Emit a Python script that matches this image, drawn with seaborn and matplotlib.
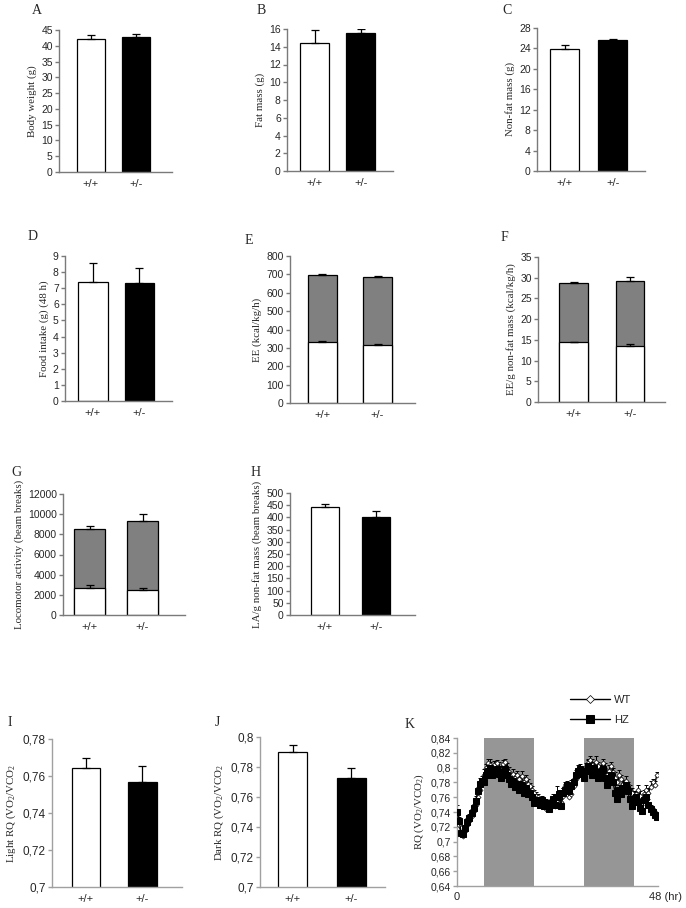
import numpy as np
import matplotlib
matplotlib.use('Agg')
import matplotlib.pyplot as plt
import matplotlib.transforms as mtransforms
import seaborn as sns

sns.set_style('ticks')
plt.rcParams['font.family'] = ['Liberation Sans', 'DejaVu Sans']
plt.rcParams['mathtext.fontset'] = 'custom'
plt.rcParams['mathtext.rm'] = 'Liberation Serif'
plt.rcParams['mathtext.it'] = 'Liberation Serif:italic'

# ---- data ----
genotypes = ['+/+', '+/-']

body_weight = [42.0, 42.7]
body_weight_err = [1.4, 0.9]
fat_mass = [14.45, 15.5]
fat_mass_err = [1.45, 0.5]
nonfat_mass = [23.8, 25.7]
nonfat_mass_err = [0.95, 0.2]
food_intake = [7.39, 7.33]
food_intake_err = [1.16, 0.92]
ee_total = [695, 686]
ee_total_err = [6, 5]
ee_light = [330, 315]
ee_light_err = [5, 8]
ee_nf_total = [28.75, 29.1]
ee_nf_total_err = [0.3, 1.1]
ee_nf_light = [14.5, 13.5]
ee_nf_light_err = [0.1, 0.6]
la_total = [8500, 9300]
la_total_err = [350, 700]
la_light = [2700, 2450]
la_light_err = [250, 250]
la_nf = [444, 401]
la_nf_err = [12, 27]
rq_light = [0.7641, 0.7567]
rq_light_err = [0.0055, 0.0089]
rq_dark = [0.7902, 0.7727]
rq_dark_err = [0.0048, 0.0066]

# panel K: RQ over 48 h, one point every 30 min
rq_hours = np.arange(0, 48.5, 0.5)
rq_wt = [0.730, 0.722, 0.712, 0.708, 0.715, 0.722, 0.728, 0.735, 0.742, 0.750,
         0.760, 0.770, 0.778, 0.790, 0.800, 0.806, 0.804, 0.798, 0.803, 0.806,
         0.800, 0.796, 0.805, 0.808, 0.800, 0.794, 0.788, 0.792, 0.786, 0.790,
         0.784, 0.788, 0.780, 0.785, 0.778, 0.775, 0.770, 0.766, 0.762, 0.760,
         0.756, 0.752, 0.748, 0.744, 0.746, 0.750, 0.752, 0.748, 0.756, 0.760,
         0.754, 0.762, 0.775, 0.770, 0.760, 0.765, 0.775, 0.785, 0.790, 0.795,
         0.790, 0.795, 0.800, 0.806, 0.810, 0.804, 0.800, 0.808, 0.802, 0.796,
         0.806, 0.798, 0.790, 0.796, 0.802, 0.794, 0.786, 0.780, 0.790, 0.784,
         0.778, 0.782, 0.776, 0.770, 0.766, 0.760, 0.764, 0.770, 0.762, 0.756,
         0.764, 0.770, 0.766, 0.774, 0.780, 0.776, 0.790]
rq_wt_err = [0.004, 0.004, 0.003, 0.003, 0.004, 0.005, 0.004, 0.006, 0.005, 0.006,
             0.008, 0.006, 0.007, 0.008, 0.005, 0.006, 0.007, 0.005, 0.006, 0.004,
             0.007, 0.006, 0.005, 0.004, 0.006, 0.007, 0.005, 0.006, 0.007, 0.005,
             0.006, 0.008, 0.007, 0.005, 0.006, 0.004, 0.005, 0.004, 0.005, 0.004,
             0.004, 0.003, 0.005, 0.004, 0.006, 0.004, 0.005, 0.004, 0.006, 0.005,
             0.008, 0.010, 0.006, 0.009, 0.007, 0.008, 0.006, 0.007, 0.005, 0.006,
             0.007, 0.005, 0.006, 0.005, 0.006, 0.007, 0.005, 0.008, 0.006, 0.007,
             0.005, 0.008, 0.006, 0.007, 0.005, 0.006, 0.008, 0.005, 0.007, 0.006,
             0.005, 0.006, 0.005, 0.007, 0.006, 0.008, 0.005, 0.006, 0.007, 0.005,
             0.006, 0.007, 0.006, 0.008, 0.005, 0.006, 0.004]
rq_hz = [0.740, 0.728, 0.712, 0.710, 0.718, 0.726, 0.732, 0.738, 0.745, 0.755,
         0.768, 0.778, 0.782, 0.780, 0.790, 0.796, 0.800, 0.790, 0.796, 0.798,
         0.792, 0.786, 0.794, 0.798, 0.790, 0.784, 0.778, 0.782, 0.774, 0.778,
         0.770, 0.776, 0.766, 0.772, 0.764, 0.766, 0.760, 0.752, 0.756, 0.754,
         0.750, 0.756, 0.748, 0.752, 0.744, 0.752, 0.758, 0.750, 0.760, 0.764,
         0.748, 0.766, 0.770, 0.776, 0.768, 0.775, 0.780, 0.790, 0.796, 0.798,
         0.792, 0.786, 0.796, 0.802, 0.798, 0.790, 0.800, 0.794, 0.786, 0.792,
         0.798, 0.786, 0.776, 0.784, 0.790, 0.780, 0.766, 0.758, 0.770, 0.764,
         0.772, 0.776, 0.768, 0.758, 0.748, 0.754, 0.760, 0.754, 0.746, 0.742,
         0.756, 0.760, 0.750, 0.744, 0.740, 0.736, 0.733]
rq_hz_err = [0.010, 0.005, 0.004, 0.004, 0.005, 0.006, 0.005, 0.006, 0.006, 0.007,
             0.006, 0.008, 0.007, 0.006, 0.007, 0.006, 0.008, 0.006, 0.007, 0.010,
             0.006, 0.007, 0.006, 0.005, 0.006, 0.007, 0.006, 0.005, 0.006, 0.006,
             0.005, 0.006, 0.007, 0.006, 0.005, 0.006, 0.005, 0.006, 0.005, 0.004,
             0.006, 0.005, 0.007, 0.005, 0.006, 0.005, 0.007, 0.006, 0.015, 0.006,
             0.009, 0.007, 0.008, 0.006, 0.007, 0.008, 0.006, 0.007, 0.008, 0.007,
             0.008, 0.009, 0.006, 0.008, 0.007, 0.009, 0.007, 0.008, 0.010, 0.007,
             0.006, 0.008, 0.009, 0.007, 0.006, 0.008, 0.010, 0.008, 0.007, 0.006,
             0.007, 0.006, 0.008, 0.007, 0.009, 0.006, 0.007, 0.008, 0.006, 0.007,
             0.008, 0.006, 0.007, 0.006, 0.005, 0.006, 0.004]
dark_phases = [(6.5, 18.5), (30.5, 42.5)]

W, H = 686, 908
fig = plt.figure(figsize=(W / 100, H / 100), dpi=100)
SERIF = 'Liberation Serif'


def px_axes(l, t, r, b):
    return fig.add_axes([l / W, 1 - b / H, (r - l) / W, (b - t) / H])


def style(ax, ylabel, letter, letter_xy, spine='#7a7a7a', tick_size=7.5):
    sns.despine(ax=ax)
    for s in ('left', 'bottom'):
        ax.spines[s].set_color(spine)
        ax.spines[s].set_linewidth(1.0)
    ax.tick_params(axis='y', direction='out', length=3, width=1.0, color=spine,
                   labelsize=tick_size, pad=1.5)
    ax.tick_params(axis='x', length=0, labelsize=8, pad=5)
    ax.set_xlabel('')
    ax.set_ylabel(ylabel, family=SERIF, fontsize=7.8, labelpad=3)
    fig.text(letter_xy[0] / W, 1 - letter_xy[1] / H, letter, family=SERIF,
             fontsize=10, ha='center', va='center')


def bars(ax, vals, errs, colors, width):
    sns.barplot(x=genotypes, y=vals, hue=genotypes, palette=colors, width=width,
                edgecolor='black', linewidth=0.9, errorbar=None, legend=False, ax=ax)
    ax.errorbar([0, 1], vals, yerr=[[0, 0], errs], fmt='none', ecolor='black',
                elinewidth=0.9, capsize=3, capthick=0.9, zorder=5)


def bar_panel(box, vals, errs, width, xlim, ylim, step, ylabel, letter, letter_xy,
              stack=None, colors=('white', 'black')):
    ax = px_axes(*box)
    if stack is None:
        bars(ax, vals, errs, list(colors), width)
    else:
        bars(ax, vals, errs, ['#808080', '#808080'], width)
        bars(ax, stack[0], stack[1], ['white', 'white'], width)
    ax.set_xlim(*xlim)
    ax.set_ylim(*ylim)
    ax.set_yticks(np.arange(ylim[0], ylim[1] + step / 2, step))
    style(ax, ylabel, letter, letter_xy)
    return ax


bar_panel((59, 30, 172, 172), body_weight, body_weight_err, 0.64, (-0.71, 1.8),
          (0, 45), 5, 'Body weight (g)', 'A', (37, 10))
bar_panel((287, 29, 393, 171), fat_mass, fat_mass_err, 0.63, (-0.6, 1.7),
          (0, 16), 2, 'Fat mass (g)', 'B', (261, 10))
bar_panel((537, 28, 645, 171), nonfat_mass, nonfat_mass_err, 0.6, (-0.58, 1.67),
          (0, 28), 4, 'Non-fat mass (g)', 'C', (507, 10))

bar_panel((65, 256, 172, 401), food_intake, food_intake_err, 0.64, (-0.6, 1.7),
          (0, 9), 1, 'Food intake (g) (48 h)', 'D', (33, 237))
bar_panel((290, 256, 415, 403), ee_total, ee_total_err, 0.53, (-0.59, 1.68),
          (0, 800), 100, 'EE (kcal/kg/h)', 'E', (249, 240),
          stack=(ee_light, ee_light_err))
bar_panel((538, 257, 665, 402), ee_nf_total, ee_nf_total_err, 0.51, (-0.63, 1.62),
          (0, 35), 5, 'EE/g non-fat mass (kcal/kg/h)', 'F', (504, 238),
          stack=(ee_nf_light, ee_nf_light_err))

bar_panel((63, 494, 185, 615), la_total, la_total_err, 0.6, (-0.5, 1.8),
          (0, 12000), 2000, 'Locomotor activity (beam breaks)', 'G', (16, 473),
          stack=(la_light, la_light_err))
bar_panel((290, 493, 415, 615), la_nf, la_nf_err, 0.55, (-0.68, 1.77),
          (0, 500), 50, 'LA/g non-fat mass (beam breaks)', 'H', (256, 473))

comma = matplotlib.ticker.FuncFormatter(lambda v, p: f'{v:.2f}'.rstrip('0').replace('.', ','))

ax_i = bar_panel((52, 739, 182, 887), rq_light, rq_light_err, 0.5, (-0.6, 1.7),
                 (0.7, 0.78), 0.02, r'Light RQ (VO$_2$/VCO$_2$', 'I', (10, 723))
ax_j = bar_panel((260, 737, 385, 887), rq_dark, rq_dark_err, 0.5, (-0.56, 1.58),
                 (0.7, 0.8), 0.02, r'Dark RQ (VO$_2$/VCO$_2$', 'J', (217, 723))
for ax in (ax_i, ax_j):
    ax.yaxis.set_major_formatter(comma)
    for s in ('left', 'bottom'):
        ax.spines[s].set_color('#a0a0a0')
    ax.tick_params(axis='y', color='#a0a0a0', labelsize=8.5)

# ---- panel K ----
ax_k = px_axes(457, 738, 658, 886)
for a, b in dark_phases:
    ax_k.axvspan(a, b, color='#969696', lw=0, zorder=0)
ax_k.errorbar(rq_hours, rq_wt, yerr=[np.zeros(len(rq_wt)), rq_wt_err], fmt='none',
              ecolor='black', elinewidth=0.7, capsize=1.2, capthick=0.7, zorder=2)
ax_k.errorbar(rq_hours, rq_hz, yerr=[np.zeros(len(rq_hz)), rq_hz_err], fmt='none',
              ecolor='black', elinewidth=0.7, capsize=1.2, capthick=0.7, zorder=2)
sns.lineplot(x=rq_hours, y=rq_wt, color='black', marker='D', markersize=2.6,
             markerfacecolor='white', markeredgecolor='black', markeredgewidth=0.5,
             lw=1.0, label='WT', ax=ax_k, zorder=3)
sns.lineplot(x=rq_hours, y=rq_hz, color='black', marker='s', markersize=4.0,
             markeredgecolor='black', lw=1.0, label='HZ', ax=ax_k, zorder=4)
ax_k.set_xlim(0, 48.3)
ax_k.set_ylim(0.64, 0.84)
ax_k.set_yticks(np.arange(0.64, 0.8401, 0.02))
ax_k.yaxis.set_major_formatter(comma)
ax_k.set_xticks([0, 48])
ax_k.set_xticklabels(['0', '48 (hr)'])
style(ax_k, r'RQ (VO$_2$/VCO$_2$)', 'K', (410, 725), spine='#a0a0a0', tick_size=7.5)
ax_k.tick_params(axis='x', labelsize=8, pad=4)
lab48 = ax_k.get_xticklabels()[1]
lab48.set_ha('left')
lab48.set_transform(lab48.get_transform() +
                    mtransforms.ScaledTranslation(-8 / 100, 0, fig.dpi_scale_trans))

handles, labels = ax_k.get_legend_handles_labels()
ax_k.legend(handles, labels, loc='center left', bbox_to_anchor=(560 / W, 1 - 710 / H),
            bbox_transform=fig.transFigure, frameon=False, fontsize=8,
            handlelength=3.6, labelspacing=0.9, handletextpad=0.4, markerscale=1.5)

fig.savefig('out.png', dpi=100)
